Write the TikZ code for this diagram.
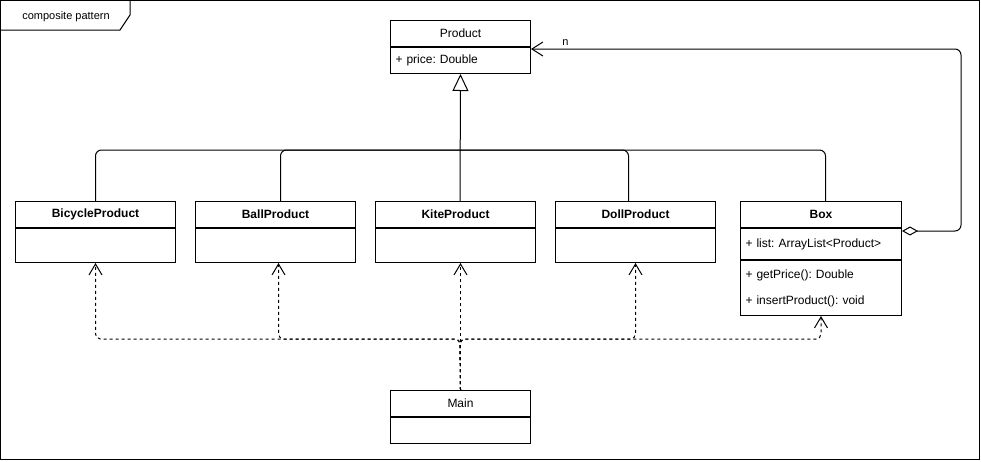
\documentclass[tikz,border=0pt]{standalone}
\usepackage{fontspec}
\setmainfont{Liberation Sans}
\usepackage{tikz}
\usetikzlibrary{arrows.meta, positioning, calc}
\frenchspacing
\newcommand{\umlfont}{\fontsize{12}{14}\selectfont}
\newcommand{\smallumlfont}{\fontsize{11}{13}\selectfont}
\tikzset{
  umlbox/.style={rectangle, draw=black, fill=white, line width=1pt,
    inner sep=0pt, font=\umlfont},
  clsname/.style={umlbox, minimum width=#1, minimum height=26pt},
  clsbold/.style={clsname=#1, font=\umlfont\bfseries},
  clsrow/.style={umlbox, text width=#1, align=left, inner xsep=5pt,
    minimum height=26pt},
  clsbody/.style={umlbox, minimum width=#1, minimum height=34pt},
  generalize/.style={line width=1pt, rounded corners=6pt},
  inherit/.style={generalize, -{Triangle[open, length=17pt, width=16pt]}},
  depend/.style={-{Straight Barb[length=11pt, width=13pt]}, line width=1pt,
    dash pattern=on 3pt off 3pt, rounded corners=5pt},
  aggregate/.style={{Diamond[open, length=16pt, width=9pt]}-{Straight Barb[length=11pt, width=14pt]},
    line width=1pt, rounded corners=6pt}
}

\begin{document}
\begin{tikzpicture}[x=1pt, y=-1pt]
  \useasboundingbox (0,0) rectangle (981,461);

  % Frame
  \draw[line width=1pt] (0.5,0.5) rectangle (979.5,459.5);
  \draw[line width=1pt] (0.5,30) -- (120,30) -- (130,15) -- (130,0.5);
  \node[font=\smallumlfont] (frametitle) at (66,17) {composite pattern};

  % Component
  \node[clsname=140pt, anchor=north west] (product) at (390,20) {Product};
  \node[clsrow=130pt, below=0pt of product] (productattr) {+ price: Double};

  % Leaves
  \node[clsbold=160pt, anchor=north west] (bicycle) at (15,201) {BicycleProduct};
  \node[clsbody=160pt, below=0pt of bicycle] (bicyclebody) {};
  \node[clsbold=160pt, anchor=north west] (ball) at (195,201) {BallProduct};
  \node[clsbody=160pt, below=0pt of ball] (ballbody) {};
  \node[clsbold=160pt, anchor=north west] (kite) at (375,201) {KiteProduct};
  \node[clsbody=160pt, below=0pt of kite] (kitebody) {};
  \node[clsbold=160pt, anchor=north west] (doll) at (555,201) {DollProduct};
  \node[clsbody=160pt, below=0pt of doll] (dollbody) {};

  % Composite
  \node[clsbold=161pt, anchor=north west] (box) at (740,201) {Box};
  \node[clsrow=151pt, minimum height=31pt, below=0pt of box] (boxlist) {+ list: ArrayList<Product>};
  \node[clsrow=151pt, minimum height=55pt, below=0pt of boxlist,
    font=\fontsize{12}{26}\selectfont] (boxops) {+ getPrice(): Double\\+ insertProduct(): void};

  % Client
  \node[clsname=140pt, anchor=north west] (main) at (390,390) {Main};
  \node[clsname=140pt, below=0pt of main] (mainbody) {};

  % Generalization
  \coordinate (bus) at (460,150);
  \draw[inherit] (kite.north -| bus) -- (productattr.south);
  \draw[generalize] (bicycle.north) |- (bus);
  \draw[generalize] ([xshift=5pt]ball.north) |- (bus);
  \draw[generalize] ([xshift=-7pt]doll.north) |- (bus);
  \draw[generalize] ([xshift=4.5pt]box.north) |- (bus);

  % Aggregation
  \draw[aggregate] ([yshift=-3pt]boxlist.north east) -- ++(59,0)
    |- ([yshift=-2pt]productattr.north east) node[pos=0.96, above, font=\smallumlfont] (mult) {n};

  % Dependencies
  \coordinate (jct) at (460,339);
  \draw[depend] (main.north) -- (kitebody.south -| main.north);
  \draw[depend] (main.north) -- (jct) -| (bicyclebody.south);
  \draw[depend] (main.north) -- (jct) -| ([xshift=3pt]ballbody.south);
  \draw[depend] (main.north) -- (jct) -| (dollbody.south);
  \draw[depend] (main.north) -- (jct) -| (boxops.south);
\end{tikzpicture}
\end{document}
